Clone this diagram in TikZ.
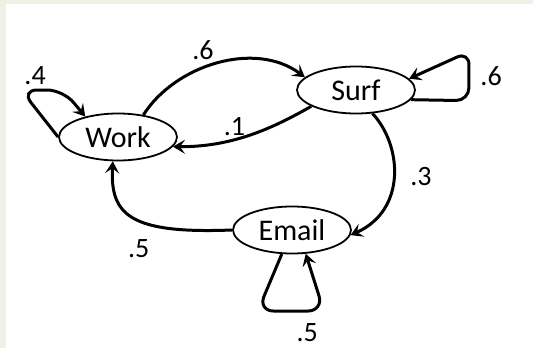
\documentclass[tikz,border=0pt]{standalone}
\usepackage{fontspec}
\setmainfont{Carlito}
\usetikzlibrary{
  arrows.meta,
  shapes.geometric
}
\definecolor{pagetint}{RGB}{240,240,229}
\tikzset{
  state/.style={
    draw,
    ellipse,
    line width=1.8pt,
    minimum width=118pt,
    minimum height=47pt,
    inner sep=0pt,
    font=\fontsize{30}{32}\selectfont
  },
  hop/.style={
    line width=3pt,
    -{Stealth[length=12pt,width=14pt,inset=5pt]}
  },
  selfhop/.style={
    hop,
    rounded corners=16pt
  },
  prob/.style={
    inner sep=1pt,
    font=\fontsize{28}{30}\selectfont
  }
}

\begin{document}
\begin{tikzpicture}[x=1pt,y=-1pt]
  \fill[pagetint] (0,0) rectangle (533,348);
  \fill[white] (6,4) rectangle (533,348);
  \useasboundingbox (0,0) rectangle (533,348);

  \node[state] (work) at (118,137) {Work};
  \node[state] (surf) at (356,90) {Surf};
  \node[state] (email) at (292,230) {Email};

  \draw[selfhop] (work.west) -- ++(-37,-47) node[prob,pos=1,above=3pt,xshift=14pt] (p-ww) {.4} -- ++(42,0) -- (work.148);
  \draw[hop] (work.41) .. controls (175,65) and (255,40) .. node[prob,pos=.42,above=6pt] (p-ws) {.6} (surf.166);
  \draw[hop] (surf.200) .. controls (270,130) and (230,147) .. node[prob,pos=.6,above=1pt] (p-sw) {.1} (work.350);
  \draw[selfhop,rounded corners=13pt] (surf.350) -- ++(58,1) -- ++(0,-49) node[prob,pos=.5,right=9pt] (p-ss) {.6} -- (surf.12);
  \draw[hop] (surf.305) .. controls (402,145) and (407,210) .. node[prob,pos=.5,right=14pt] (p-se) {.3} (email.355);
  \draw[hop] (email.west) .. controls (130,234) and (110,215) .. node[prob,pos=.45,below=17pt] (p-ew) {.5} (work.258);
  \draw[selfhop] (email.247) -- ++(-24,57) -- ++(66,0) node[prob,pos=.75,below=10pt] (p-ee) {.5} -- (email.300);
\end{tikzpicture}
\end{document}
